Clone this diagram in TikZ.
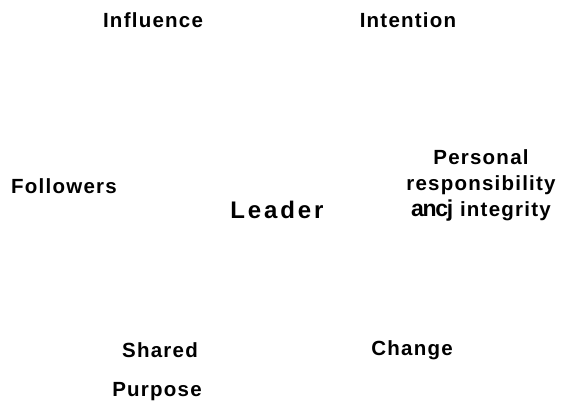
\documentclass[tikz,border=0pt]{standalone}
\usepackage{fontspec}
\setmainfont{Liberation Sans}
\newfontfamily\spaced{Liberation Sans}[LetterSpace=6]
\newfontfamily\widespaced{Liberation Sans}[LetterSpace=12]
\usetikzlibrary{positioning}

\begin{document}
\begin{tikzpicture}[
    x=1pt, y=-1pt,
    term/.style={font=\spaced\bfseries\fontsize{20.5}{26}\selectfont,
      inner sep=0pt, align=center},
    core/.style={font=\widespaced\bfseries\fontsize{24}{26}\selectfont,
      inner sep=0pt},
    node distance=26pt,
  ]
    \useasboundingbox (0,0) rectangle (563,401);
    % leader in the middle, the other terms round it
    \node[core] (leader) at (277,210) {Leader};
    \node[term] (influence) at (153,20) {Influence};
    \node[term] (intention) at (408,20) {Intention};
    \node[term] (followers) at (64,186) {Followers};
    \node[term] (integrity) at (481,185)
      {Personal\\responsibility\\{\addfontfeature{LetterSpace=-6}\fontsize{23}{26}\selectfont ancj} integrity};
    \node[term] (shared) at (160,350) {Shared};
    \node[term] (purpose) at (157,392) {Purpose};
    \node[term] (change) at (412,350) {Change};
\end{tikzpicture}
\end{document}
